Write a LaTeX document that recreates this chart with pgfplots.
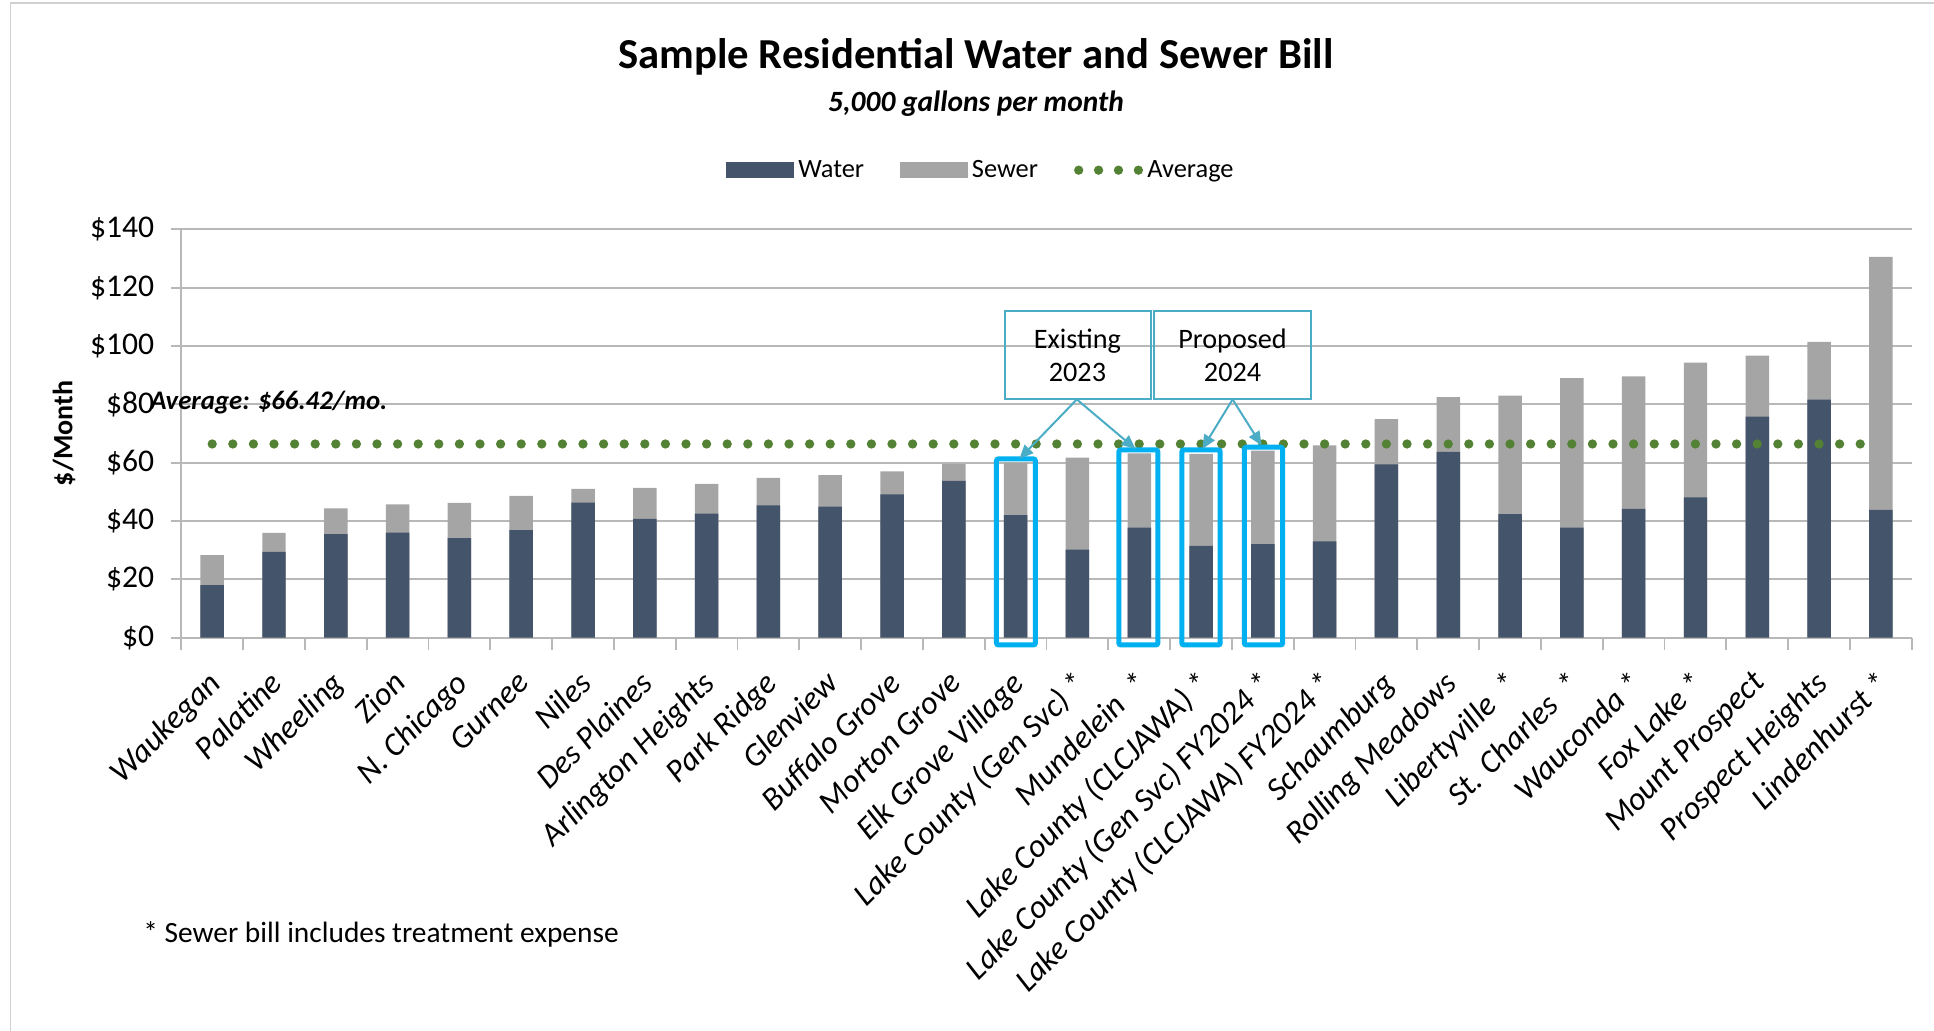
\documentclass[border=0pt]{standalone}
\usepackage{fontspec}
\setmainfont{Carlito}
\usepackage{pgfplots}
\usepackage{pgfplotstable}
\pgfplotsset{compat=1.18}
\usetikzlibrary{arrows.meta}
\definecolor{water}{HTML}{44546A}
\definecolor{sewer}{HTML}{A5A5A5}
\definecolor{avg}{HTML}{548235}
\definecolor{hl}{HTML}{00B0F0}
\definecolor{boxc}{HTML}{4BACC6}
\definecolor{gridc}{HTML}{B8B8B8}
\definecolor{framec}{HTML}{D0D0D0}

\pgfplotstableread{
x water sewer
0 18.0 10.3
1 29.4 6.5
2 35.5 8.8
3 36.0 9.7
4 34.1 12.1
5 36.9 11.7
6 46.3 4.7
7 40.7 10.7
8 42.5 10.2
9 45.4 9.4
10 44.9 10.8
11 49.1 7.9
12 53.8 5.8
13 42.0 18.0
14 30.2 31.5
15 37.7 25.5
16 31.5 31.5
17 32.1 32.0
18 33.0 32.9
19 59.4 15.5
20 63.7 18.8
21 42.4 40.6
22 37.7 51.3
23 44.2 45.4
24 48.1 46.2
25 75.8 20.9
26 81.6 19.8
27 43.8 86.8
}\bills

\begin{document}
\begin{tikzpicture}[x=1pt,y=1pt]
\useasboundingbox (0,0) rectangle (967,515.5);
\draw[framec, line width=0.75pt] (5.25,0) -- (5.25,514) -- (967,514);
\node[font=\fontsize{21.35}{25}\selectfont\bfseries] at (488,487) {Sample Residential Water and Sewer Bill};
\node[font=\fontsize{14.7}{17}\selectfont\bfseries\itshape] at (488,463.5) {5,000 gallons per month};
\node[anchor=west, font=\fontsize{14.7}{17}\selectfont, inner sep=0pt] at (71.5,48.5) {* Sewer bill includes treatment expense};
\begin{axis}[
  at={(90.65pt,196.65pt)}, anchor=south west,
  scale only axis, width=865.25pt, height=204.15pt,
  xmin=-0.5, xmax=27.5, ymin=0, ymax=140,
  clip=false,
  axis x line*=bottom, axis y line*=left,
  axis line style={gridc, line width=0.9pt},
  ytick={0,20,...,140},
  yticklabel={\$\pgfmathprintnumber{\tick}},
  /pgf/number format/assume math mode=true,
  yticklabel style={font=\fontsize{15.8}{18}\selectfont, xshift=-5pt},
  ymajorgrids, major grid style={gridc, line width=0.9pt},
  tick align=outside,
  major tick length=5pt,
  minor tick length=6pt,
  every major x tick/.append style={draw=none},
  tick style={gridc, line width=0.9pt},
  xtick={0,...,27},
  minor xtick={-0.5,0.5,...,27.5},
  xticklabels={{Waukegan},{Palatine},{Wheeling},{Zion},{N. Chicago},{Gurnee},{Niles},{Des Plaines},{Arlington Heights},{Park Ridge},{Glenview},{Buffalo Grove},{Morton Grove},{Elk Grove Village},{Lake County (Gen Svc) *},{Mundelein\ \ *},{Lake County (CLCJAWA) *},{Lake County (Gen Svc) FY2024 *},{Lake County (CLCJAWA) FY2024 *},{Schaumburg},{Rolling Meadows},{Libertyville\ \ *},{St. Charles\ \ *},{Wauconda *},{Fox Lake *},{Mount Prospect},{Prospect Heights},{Lindenhurst *}},
  xticklabel style={xshift=-3pt, yshift=-10.5pt, rotate=45, anchor=north east, inner sep=0pt, font=\fontsize{16.3}{18}\selectfont\itshape},
  ylabel={\$/Month},
  ylabel style={font=\fontsize{14}{16}\selectfont\bfseries, at={(axis description cs:-0.0678,0.5)}, anchor=center},
  legend style={at={(axis description cs:0.4627,1.145)}, anchor=center, draw=none, fill=none,
    font=\fontsize{13.2}{15}\selectfont, legend columns=3,
    /tikz/every even column/.append style={column sep=16pt}},
]
\addplot[ybar, bar width=0.38, bar shift=0pt, fill=sewer, draw=none, forget plot]
  table[x=x, y expr=\thisrow{water}+\thisrow{sewer}] {\bills};
\addplot[ybar, bar width=0.38, bar shift=0pt, fill=water, draw=none, forget plot]
  table[x=x, y=water] {\bills};
\addplot[avg, line width=4.65pt, line cap=round, dash pattern=on 0pt off 10.3pt, forget plot]
  coordinates {(0,66.42) (26.7,66.42)};
\addlegendimage{legend image code/.code={\fill[water] (0pt,-3.75pt) rectangle (33.5pt,3.75pt);}}
\addlegendentry{Water}
\addlegendimage{legend image code/.code={\fill[sewer] (0pt,-3.75pt) rectangle (33.5pt,3.75pt);}}
\addlegendentry{Sewer}
\addlegendimage{legend image code/.code={\draw[avg, line width=4.65pt, line cap=round, dash pattern=on 0pt off 9.95pt] (2.3pt,0) -- (32.3pt,0);}}
\addlegendentry{Average}
\node[anchor=base west, inner sep=0pt, font=\fontsize{13.4}{15}\selectfont\bfseries\itshape] at (axis cs:-1.006,78.1) {Average: \$66.42/mo.};
% highlight rectangles
\draw[hl, line width=2.5pt, rounded corners=1pt] (axis cs:12.69,-2.5) rectangle (axis cs:13.32,61.3);
\draw[hl, line width=2.5pt, rounded corners=1pt] (axis cs:14.67,-2.5) rectangle (axis cs:15.30,64.4);
\draw[hl, line width=2.5pt, rounded corners=1pt] (axis cs:15.69,-2.5) rectangle (axis cs:16.31,64.4);
\draw[hl, line width=2.5pt, rounded corners=1pt] (axis cs:16.70,-2.5) rectangle (axis cs:17.32,65.3);
% callout boxes
\draw[boxc, line width=1pt] (axis cs:12.82,81.7) rectangle (axis cs:15.19,111.9);
\draw[boxc, line width=1pt] (axis cs:15.24,81.7) rectangle (axis cs:17.78,111.9);
\node[align=center, font=\fontsize{14.1}{16.7}\selectfont] at (axis cs:14.0,96.8) {Existing\\2023};
\node[align=center, font=\fontsize{14.1}{16.7}\selectfont] at (axis cs:16.51,96.8) {Proposed\\2024};
\draw[boxc, line width=1pt, -{Triangle[length=7pt,width=6pt]}] (axis cs:13.99,81.7) -- (axis cs:13.06,61.3);
\draw[boxc, line width=1pt, -{Triangle[length=7pt,width=6pt]}] (axis cs:13.99,81.7) -- (axis cs:14.94,64.7);
\draw[boxc, line width=1pt, -{Triangle[length=7pt,width=6pt]}] (axis cs:16.51,81.7) -- (axis cs:16.02,64.7);
\draw[boxc, line width=1pt, -{Triangle[length=7pt,width=6pt]}] (axis cs:16.51,81.7) -- (axis cs:16.98,65.9);
\end{axis}
\end{tikzpicture}
\end{document}
